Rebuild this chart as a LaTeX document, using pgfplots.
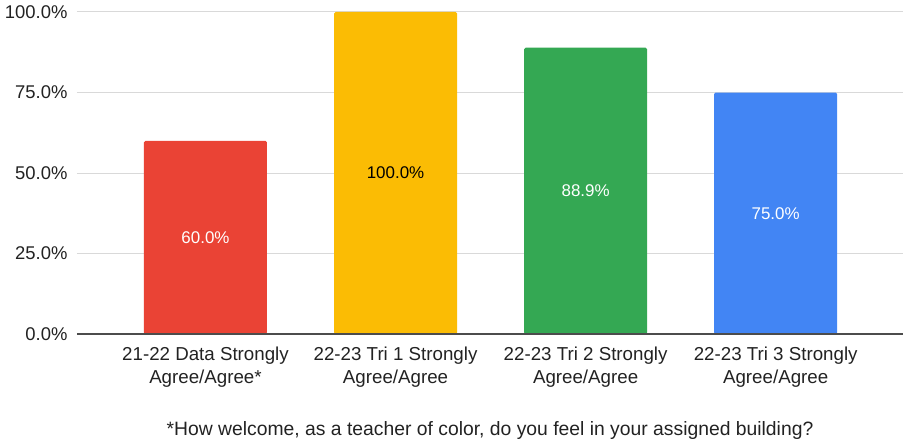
\documentclass[border=0pt]{standalone}
\usepackage{pgfplots}
\pgfplotsset{compat=1.18}
\usepackage{fontspec}
\setmainfont{Liberation Sans}
\setsansfont{Liberation Sans}

\definecolor{gred}{HTML}{EA4335}
\definecolor{gyellow}{HTML}{FBBC04}
\definecolor{ggreen}{HTML}{34A853}
\definecolor{gblue}{HTML}{4285F4}
\definecolor{gridc}{HTML}{D9D9D9}
\definecolor{txt}{HTML}{222222}

\begin{document}
\begin{tikzpicture}
  \begin{axis}[
    name=ax,
    scale only axis,
    width=826bp, height=322bp,
    ybar, bar width=123bp,
    xmin=-0.676, xmax=3.67,
    ymin=0, ymax=100,
    xtick={0,1,2,3},
    xticklabels={{21-22 Data Strongly\\Agree/Agree*},
                 {22-23 Tri 1 Strongly\\Agree/Agree},
                 {22-23 Tri 2 Strongly\\Agree/Agree},
                 {22-23 Tri 3 Strongly\\Agree/Agree}},
    xticklabel style={align=center, font=\fontsize{18.8}{23}\selectfont, text=txt, yshift=-9bp},
    ytick={0,25,50,75,100},
    yticklabels={0.0\%,25.0\%,50.0\%,75.0\%,100.0\%},
    yticklabel style={font=\fontsize{18.5}{22}\selectfont, text=txt, xshift=-6bp},
    major tick length=0pt,
    ymajorgrids, grid style={gridc, line width=1bp},
    axis line style={draw=none},
    axis x line*=bottom, axis y line*=left,
    clip=false,
    /pgf/number format/assume math mode=true,
    visualization depends on={y \as \rawy},
    nodes near coords={\pgfmathprintnumber[fixed,fixed zerofill,precision=1]{\pgfplotspointmeta}\%},
    every node near coord/.append style={anchor=center,
      font=\fontsize{17}{20}\selectfont,
      shift={(axis direction cs:0,-\rawy/2)}},
  ]
    \addplot[fill=gred, draw=none, bar shift=0pt, rounded corners=1.5bp,
      every node near coord/.append style={text=white}] coordinates {(0,60.0)};
    \addplot[fill=gyellow, draw=none, bar shift=0pt, rounded corners=1.5bp,
      every node near coord/.append style={text=black}] coordinates {(1,100.0)};
    \addplot[fill=ggreen, draw=none, bar shift=0pt, rounded corners=1.5bp,
      every node near coord/.append style={text=white}] coordinates {(2,88.9)};
    \addplot[fill=gblue, draw=none, bar shift=0pt, rounded corners=1.5bp,
      every node near coord/.append style={text=white}] coordinates {(3,75.0)};
    \draw[color=black!70, line width=1.2bp] (rel axis cs:0,0) -- (rel axis cs:1,0);
    \node[text=txt, font=\fontsize{19.4}{23}\selectfont, yshift=-96bp] at (rel axis cs:0.5,0)
      {*How welcome, as a teacher of color, do you feel in your assigned building?};
  \end{axis}
  \path[use as bounding box] ([shift={(-77bp,-106bp)}]ax.south west) rectangle ([shift={(1bp,12bp)}]ax.north east);
\end{tikzpicture}
\end{document}
